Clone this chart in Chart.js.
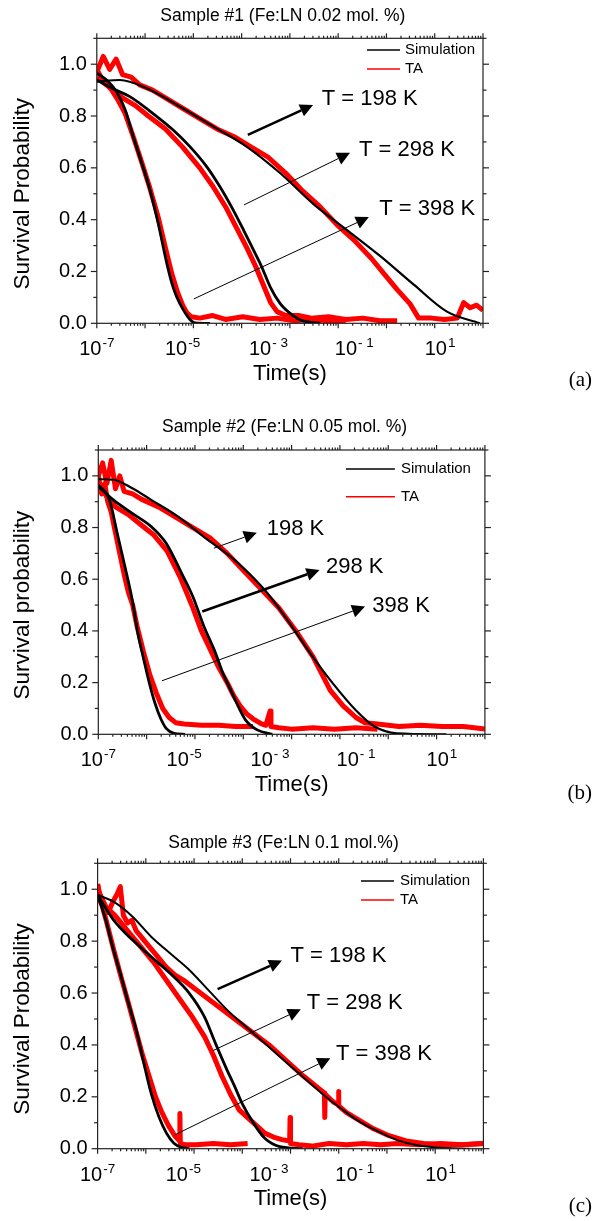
<!DOCTYPE html>
<html>
<head>
<meta charset="utf-8">
<script src="https://cdn.jsdelivr.net/npm/chart.js@4.4.1/dist/chart.umd.min.js"></script>
<style>
  body { margin: 0; background: #fff; width: 593px; height: 1221px; position: relative; overflow: hidden; }
  canvas { position: absolute; left: 0; }
</style>
</head>
<body>
<canvas id="chartA" width="593" height="410" style="top:0px"></canvas>
<canvas id="chartB" width="593" height="410" style="top:410px"></canvas>
<canvas id="chartC" width="593" height="401" style="top:820px"></canvas>
<script>
// 時間は log10(秒) で読み取り、描画時に 10^t に戻す

// ---- 軸の目盛り ----
const yMajorTicks = [0.0, 0.2, 0.4, 0.6, 0.8, 1.0];
const yMinorTicks = [0.1, 0.3, 0.5, 0.7, 0.9, 1.1];
const xLabelDecades = [-7, -5, -3, -1, 1];
const xLabelSups = ['-7', '-5', '- 3', '- 1', '1'];

// ---- Sample #1 ----
const aSim398T = [-7.0, -6.77, -6.54, -6.34, -6.15, -5.95, -5.76, -5.57, -5.37, -5.25, -5.14, -4.98, -4.83, -4.71, -4.36];
const aSim398P = [0.965, 0.939, 0.894, 0.824, 0.72, 0.617, 0.514, 0.386, 0.232, 0.154, 0.103, 0.051, 0.015, 0.002, 0.0];
const aTa398T = [-7.0, -6.9, -6.8, -6.65, -6.5, -6.34, -6.15, -5.95, -5.76, -5.57, -5.4, -5.25, -5.12, -5.0, -4.9, -4.8, -4.6, -4.3, -4.0, -3.6, -3.2, -2.8, -2.4, -2.0, -1.6, -1.2];
const aTa398P = [0.98, 0.95, 0.93, 0.90, 0.86, 0.81, 0.72, 0.62, 0.52, 0.41, 0.29, 0.19, 0.12, 0.07, 0.04, 0.025, 0.02, 0.03, 0.015, 0.025, 0.015, 0.02, 0.01, 0.015, 0.01, 0.01];
const aSim298T = [-7.0, -6.62, -6.23, -5.6, -5.22, -4.83, -4.44, -4.13, -3.82, -3.58, -3.35, -3.16, -2.96, -2.73, -2.5, -2.26, -1.79];
const aSim298P = [0.939, 0.905, 0.875, 0.798, 0.746, 0.682, 0.605, 0.527, 0.437, 0.36, 0.283, 0.219, 0.141, 0.077, 0.039, 0.013, 0.0];
const aTa298T = [-7.0, -6.7, -6.4, -6.1, -5.8, -5.4, -5.0, -4.6, -4.3, -4.0, -3.75, -3.5, -3.3, -3.1, -2.95, -2.8, -2.6, -2.3, -2.0, -1.6, -1.2, -0.8, -0.4, 0.0];
const aTa298P = [0.95, 0.91, 0.87, 0.84, 0.80, 0.75, 0.68, 0.60, 0.53, 0.45, 0.37, 0.29, 0.22, 0.14, 0.08, 0.045, 0.03, 0.03, 0.02, 0.025, 0.015, 0.02, 0.01, 0.01];
const aSim198T = [-7.0, -6.46, -5.84, -5.06, -4.28, -3.51, -2.73, -1.95, -1.17, -0.4, 0.38, 1.16, 1.93];
const aSim198P = [0.933, 0.939, 0.907, 0.836, 0.759, 0.682, 0.58, 0.46, 0.36, 0.26, 0.15, 0.045, 0.0];
const aTa198T = [-7.0, -6.85, -6.7, -6.55, -6.4, -6.2, -6.0, -5.7, -5.4, -5.0, -4.6, -4.2, -3.8, -3.4, -3.0, -2.6, -2.2, -1.8, -1.4, -1.0, -0.6, -0.3, 0.0, 0.3, 0.5, 0.8, 1.1, 1.4, 1.55, 1.7, 1.85, 2.0];
const aTa198P = [0.97, 1.03, 0.98, 1.02, 0.96, 0.95, 0.92, 0.90, 0.87, 0.83, 0.79, 0.75, 0.72, 0.68, 0.64, 0.58, 0.51, 0.45, 0.38, 0.32, 0.25, 0.19, 0.13, 0.075, 0.02, 0.02, 0.015, 0.02, 0.08, 0.06, 0.07, 0.05];

// ---- Sample #2 ----
const bSim398T = [-7.0, -6.74, -6.56, -6.38, -6.21, -6.08, -5.94, -5.81, -5.68, -5.55, -5.42, -5.24, -4.98];
const bSim398P = [0.965, 0.907, 0.778, 0.649, 0.52, 0.391, 0.288, 0.197, 0.12, 0.062, 0.023, 0.004, 0.0];
const bTa398T = [-7.0, -6.92, -6.85, -6.78, -6.7, -6.6, -6.5, -6.4, -6.3, -6.2, -6.1, -5.95, -5.8, -5.65, -5.5, -5.35, -5.2, -5.0, -4.6, -4.2, -3.8, -3.4];
const bTa398P = [1.0, 0.93, 0.97, 0.90, 0.86, 0.78, 0.70, 0.62, 0.55, 0.50, 0.42, 0.32, 0.23, 0.16, 0.10, 0.065, 0.045, 0.04, 0.035, 0.035, 0.03, 0.03];
const bSim298T = [-7.0, -6.65, -6.21, -5.77, -5.42, -5.06, -4.8, -4.54, -4.27, -4.1, -3.92, -3.74, -3.57, -3.3, -2.95];
const bSim298P = [0.959, 0.907, 0.855, 0.804, 0.739, 0.623, 0.533, 0.417, 0.314, 0.236, 0.172, 0.107, 0.055, 0.017, 0.0];
const bTa298T = [-7.0, -6.8, -6.6, -6.3, -6.0, -5.7, -5.4, -5.1, -4.8, -4.6, -4.4, -4.2, -4.0, -3.85, -3.7, -3.55, -3.4, -3.3, -3.2, -3.1, -3.0, -2.98, -2.8, -2.5, -2.0, -1.5, -1.0, -0.5];
const bTa298P = [0.97, 0.92, 0.88, 0.85, 0.81, 0.77, 0.71, 0.61, 0.49, 0.40, 0.33, 0.26, 0.20, 0.15, 0.11, 0.08, 0.06, 0.05, 0.04, 0.035, 0.09, 0.03, 0.025, 0.02, 0.025, 0.02, 0.025, 0.02];
const bSim198T = [-7.0, -6.65, -6.21, -5.77, -5.15, -4.45, -3.83, -3.13, -2.6, -2.07, -1.54, -1.01, -0.57, -0.05, 1.1];
const bSim198P = [0.987, 0.985, 0.952, 0.907, 0.843, 0.752, 0.675, 0.559, 0.443, 0.314, 0.197, 0.094, 0.03, 0.004, 0.0];
const bTa198T = [-7.0, -6.9, -6.8, -6.7, -6.6, -6.5, -6.4, -6.2, -6.0, -5.6, -5.2, -4.8, -4.4, -4.0, -3.6, -3.2, -2.8, -2.4, -2.0, -1.6, -1.3, -1.0, -0.8, -0.5, 0.0, 0.5, 1.0, 1.5, 2.0];
const bTa198P = [1.0, 1.05, 0.97, 1.06, 0.95, 1.0, 0.94, 0.93, 0.91, 0.88, 0.84, 0.80, 0.76, 0.70, 0.63, 0.56, 0.49, 0.40, 0.30, 0.17, 0.11, 0.065, 0.045, 0.04, 0.03, 0.035, 0.03, 0.03, 0.02];

// ---- Sample #3 ----
const cSim398T = [-7.0, -6.81, -6.63, -6.45, -6.28, -6.1, -5.92, -5.75, -5.57, -5.39, -5.22, -5.04, -4.86];
const cSim398P = [0.978, 0.882, 0.766, 0.663, 0.56, 0.458, 0.329, 0.213, 0.123, 0.059, 0.021, 0.005, 0.0];
const cTa398T = [-7.0, -6.95, -6.9, -6.8, -6.63, -6.45, -6.28, -6.1, -5.95, -5.8, -5.65, -5.5, -5.35, -5.2, -5.09, -5.08, -5.07, -4.95, -4.7, -4.3, -3.9, -3.5];
const cTa398P = [1.02, 0.98, 0.94, 0.88, 0.77, 0.66, 0.56, 0.45, 0.36, 0.28, 0.20, 0.14, 0.09, 0.05, 0.03, 0.136, 0.02, 0.015, 0.015, 0.02, 0.015, 0.02];
const cSim298T = [-7.0, -6.63, -6.19, -5.75, -5.31, -4.86, -4.51, -4.25, -3.98, -3.8, -3.63, -3.36, -3.1, -2.75, -2.22];
const cSim298P = [0.978, 0.882, 0.805, 0.74, 0.676, 0.599, 0.509, 0.406, 0.303, 0.239, 0.175, 0.098, 0.04, 0.008, 0.0];
const cTa298T = [-7.0, -6.8, -6.6, -6.3, -6.0, -5.7, -5.4, -5.1, -4.8, -4.5, -4.3, -4.1, -3.9, -3.7, -3.5, -3.3, -3.1, -2.9, -2.7, -2.52, -2.51, -2.5, -2.3, -2.0, -1.6, -1.2, -0.8, -0.4, 0.0, 0.5, 1.0, 1.5, 2.0];
const cTa298P = [1.0, 0.93, 0.90, 0.84, 0.78, 0.72, 0.65, 0.58, 0.51, 0.43, 0.36, 0.28, 0.21, 0.15, 0.12, 0.09, 0.06, 0.045, 0.035, 0.03, 0.12, 0.02, 0.015, 0.01, 0.02, 0.015, 0.02, 0.015, 0.02, 0.015, 0.02, 0.015, 0.02];
const cSim198T = [-7.0, -6.63, -6.19, -5.75, -5.31, -4.86, -4.42, -3.98, -3.54, -3.1, -2.66, -2.22, -1.77, -1.33, -0.89, -0.45, -0.01, 0.43, 0.87, 1.67];
const cSim198P = [0.978, 0.952, 0.895, 0.817, 0.753, 0.689, 0.612, 0.535, 0.47, 0.406, 0.342, 0.278, 0.213, 0.156, 0.104, 0.066, 0.033, 0.014, 0.005, 0.0];
const cTa198T = [-7.0, -6.93, -6.85, -6.75, -6.65, -6.55, -6.47, -6.4, -6.3, -6.2, -6.1, -6.0, -5.8, -5.6, -5.4, -5.2, -5.0, -4.6, -4.2, -3.8, -3.4, -3.0, -2.6, -2.2, -1.9, -1.71, -1.70, -1.69, -1.5, -1.39, -1.38, -1.37, -1.2, -1.0, -0.6, -0.2, 0.2, 0.6, 1.0, 1.5, 2.0];
const cTa198P = [1.02, 0.95, 0.93, 0.91, 0.95, 0.98, 1.01, 0.90, 0.87, 0.88, 0.84, 0.82, 0.78, 0.74, 0.70, 0.67, 0.65, 0.60, 0.55, 0.50, 0.45, 0.40, 0.34, 0.28, 0.24, 0.215, 0.12, 0.21, 0.18, 0.17, 0.22, 0.165, 0.14, 0.12, 0.08, 0.05, 0.03, 0.02, 0.015, 0.015, 0.02];

// 矢印と温度ラベル（データ座標: [log10 t, 確率]）
const notesA = [
    { text: 'T = 198 K', from: [-3.48, 0.727], to: [-1.96, 0.843], at: [-1.76, 0.866], thick: true },
    { text: 'T = 298 K', from: [-3.57, 0.457], to: [-1.10, 0.658], at: [-0.89, 0.669], thick: false },
    { text: 'T = 398 K', from: [-4.74, 0.094], to: [-0.66, 0.41], at: [-0.42, 0.441], thick: false }
];
const notesB = [
    { text: '198 K', from: [-4.31, 0.72], to: [-3.31, 0.78], at: [-3.08, 0.795], thick: false },
    { text: '298 K', from: [-4.58, 0.475], to: [-1.85, 0.636], at: [-1.70, 0.647], thick: true },
    { text: '398 K', from: [-5.52, 0.207], to: [-0.79, 0.494], at: [-0.62, 0.498], thick: false }
];
const notesC = [
    { text: 'T = 198 K', from: [-4.20, 0.615], to: [-2.70, 0.725], at: [-2.50, 0.743], thick: true },
    { text: 'T = 298 K', from: [-4.31, 0.378], to: [-2.26, 0.537], at: [-2.12, 0.561], thick: false },
    { text: 'T = 398 K', from: [-5.20, 0.053], to: [-1.57, 0.349], at: [-1.44, 0.364], thick: false }
];

const FONT = '"Liberation Sans", Arial, Helvetica, sans-serif';

/**
 * 読み取った配列を {x, y} の点列にする
 */
function pts(logT, prob) {
    return logT.map((t, i) => ({ x: Math.pow(10, t), y: prob[i] }));
}

function simSet(logT, prob, width) {
    return {
        data: pts(logT, prob), borderColor: '#000', borderWidth: width,
        cubicInterpolationMode: 'monotone', pointRadius: 0, fill: false, order: 0
    };
}

function taSet(logT, prob) {
    return {
        data: pts(logT, prob), borderColor: '#ff0000', borderWidth: 5,
        borderJoinStyle: 'round', tension: 0, pointRadius: 0, fill: false, order: 1
    };
}

function line(ctx, x1, y1, x2, y2) {
    ctx.beginPath();
    ctx.moveTo(x1, y1);
    ctx.lineTo(x2, y2);
    ctx.stroke();
}

/**
 * 枠・目盛り・ラベル・凡例の描画
 */
function drawAxes(chart, p) {
    const { ctx, chartArea: a } = chart;
    const x = chart.scales.x, y = chart.scales.y, xt = chart.scales.xt;
    ctx.save();
    ctx.strokeStyle = '#222';
    ctx.lineWidth = 1.2;
    ctx.strokeRect(a.left, a.top, a.right - a.left, a.bottom - a.top);

    // y 目盛り（左右とも外向き）
    yMajorTicks.concat(yMinorTicks).forEach(v => {
        const py = y.getPixelForValue(v);
        const len = yMajorTicks.includes(v) ? 6 : 3.5;
        line(ctx, a.left - len, py, a.left, py);
        line(ctx, a.right, py, a.right + len, py);
    });

    // x 目盛り（元図は8区間の対数目盛り）
    for (let n = 0; n <= 8; n++) {
        for (let k = 1; k <= 9; k++) {
            const v = k * Math.pow(10, n);
            if (v > 1e8) break;
            const px = xt.getPixelForValue(v);
            const len = k === 1 ? 5 : 2.5;
            line(ctx, px, a.top - len, px, a.top);
            line(ctx, px, a.bottom, px, a.bottom + len);
        }
    }

    ctx.fillStyle = '#000';
    // y ラベル
    ctx.font = '20px ' + FONT;
    ctx.textAlign = 'right';
    ctx.textBaseline = 'middle';
    yMajorTicks.forEach(v => {
        ctx.fillText(v.toFixed(1), a.left - 10, y.getPixelForValue(v));
    });

    // x ラベル 10^n
    ctx.textAlign = 'left';
    ctx.textBaseline = 'alphabetic';
    xLabelDecades.forEach((d, i) => {
        const px = x.getPixelForValue(Math.pow(10, d));
        ctx.font = '20px ' + FONT;
        const w10 = ctx.measureText('10').width;
        ctx.font = '13.5px ' + FONT;
        const ws = ctx.measureText(xLabelSups[i]).width;
        const start = px - (w10 + 1 + ws) / 2;
        ctx.font = '20px ' + FONT;
        ctx.fillText('10', start, a.bottom + 32);
        ctx.font = '13.5px ' + FONT;
        ctx.fillText(xLabelSups[i], start + w10 + 1, a.bottom + 24);
    });

    // 軸タイトル
    ctx.font = '22px ' + FONT;
    ctx.textAlign = 'center';
    ctx.textBaseline = 'middle';
    ctx.fillText('Time(s)', (a.left + a.right) / 2, a.bottom + 50.5);
    ctx.save();
    ctx.translate(23, y.getPixelForValue(0.5));
    ctx.rotate(-Math.PI / 2);
    ctx.font = '22.5px ' + FONT;
    ctx.fillText(p.yLabel, 0, 0);
    ctx.restore();

    // 上のタイトル
    ctx.font = '17.5px ' + FONT;
    ctx.fillText(p.title, (a.left + a.right) / 2 - 7, p.titleY);

    // 凡例
    const lg = p.legend;
    ctx.lineWidth = 1.4;
    ctx.strokeStyle = '#000';
    line(ctx, a.right - lg.x1, a.top + lg.y1, a.right - lg.x2, a.top + lg.y1);
    ctx.strokeStyle = '#ff0000';
    line(ctx, a.right - lg.x1, a.top + lg.y2, a.right - lg.x2, a.top + lg.y2);
    ctx.font = '15px ' + FONT;
    ctx.textAlign = 'left';
    ctx.fillText('Simulation', a.right - lg.tx, a.top + lg.y1);
    ctx.fillText('TA', a.right - lg.tx, a.top + lg.y2);

    // (a)(b)(c)
    ctx.font = '21px "Liberation Serif", "DejaVu Serif", serif';
    ctx.textAlign = 'right';
    ctx.fillText(p.tag, 592, p.tagY);
    ctx.restore();
}

/**
 * 矢印と温度ラベル
 */
function drawNotes(chart, p) {
    const { ctx } = chart;
    const x = chart.scales.x, y = chart.scales.y;
    const px = v => x.getPixelForValue(Math.pow(10, v[0]));
    const py = v => y.getPixelForValue(v[1]);
    ctx.save();
    ctx.strokeStyle = '#000';
    ctx.fillStyle = '#000';
    p.notes.forEach(n => {
        const x1 = px(n.from), y1 = py(n.from), x2 = px(n.to), y2 = py(n.to);
        const ang = Math.atan2(y2 - y1, x2 - x1);
        const head = 13, half = 6.5;
        const bx = x2 - head * Math.cos(ang), by = y2 - head * Math.sin(ang);
        ctx.lineWidth = n.thick ? 2.6 : 1;
        line(ctx, x1, y1, bx, by);
        ctx.beginPath();
        ctx.moveTo(x2, y2);
        ctx.lineTo(bx + half * Math.sin(ang), by - half * Math.cos(ang));
        ctx.lineTo(bx - half * Math.sin(ang), by + half * Math.cos(ang));
        ctx.closePath();
        ctx.fill();

        ctx.font = '22px ' + FONT;
        ctx.textAlign = 'left';
        ctx.textBaseline = 'middle';
        ctx.fillText(n.text, px(n.at), py(n.at));
    });
    ctx.restore();
}

function makeDecor(p) {
    return {
        id: 'decor' + p.id,
        afterDatasetsDraw(chart) { drawNotes(chart, p); },
        afterDraw(chart) { drawAxes(chart, p); }
    };
}

const panels = [
    {
        id: 'chartA', title: 'Sample #1 (Fe:LN 0.02 mol. %)', yLabel: 'Survival Probability', tag: '(a)',
        titleY: 16, tagY: 380,
        pad: { left: 96.8, top: 38.3, right: 110, bottom: 86.7 },
        legend: { x1: 116, x2: 83, tx: 78, y1: 11.7, y2: 30.7 },
        notes: notesA,
        datasets: [
            simSet(aSim398T, aSim398P, 2.8), simSet(aSim298T, aSim298P, 2.8), simSet(aSim198T, aSim198P, 2.2),
            taSet(aTa398T, aTa398P), taSet(aTa298T, aTa298P), taSet(aTa198T, aTa198P)
        ]
    },
    {
        id: 'chartB', title: 'Sample #2 (Fe:LN 0.05 mol. %)', yLabel: 'Survival probability', tag: '(b)',
        titleY: 16.7, tagY: 383,
        pad: { left: 98.3, top: 40, right: 108.1, bottom: 85.7 },
        legend: { x1: 139, x2: 90, tx: 84, y1: 19, y2: 46.7 },
        notes: notesB,
        datasets: [
            simSet(bSim398T, bSim398P, 2.8), simSet(bSim298T, bSim298P, 2.8), simSet(bSim198T, bSim198P, 2.2),
            taSet(bTa398T, bTa398P), taSet(bTa298T, bTa298P), taSet(bTa198T, bTa198P)
        ]
    },
    {
        id: 'chartC', title: 'Sample #3 (Fe:LN 0.1 mol.%)', yLabel: 'Survival Probability', tag: '(c)',
        titleY: 23, tagY: 386.7,
        pad: { left: 97.6, top: 43.3, right: 109.6, bottom: 72.3 },
        legend: { x1: 122.4, x2: 89.4, tx: 83.4, y1: 17.7, y2: 36.7 },
        notes: notesC,
        datasets: [
            simSet(cSim398T, cSim398P, 2.8), simSet(cSim298T, cSim298P, 2.8), simSet(cSim198T, cSim198P, 2.0),
            taSet(cTa398T, cTa398P), taSet(cTa298T, cTa298P), taSet(cTa198T, cTa198P)
        ]
    }
];

panels.forEach(p => {
    new Chart(document.getElementById(p.id), {
        type: 'line',
        data: { datasets: p.datasets },
        options: {
            responsive: false,
            animation: false,
            layout: { padding: p.pad },
            plugins: { legend: { display: false }, tooltip: { enabled: false }, title: { display: false } },
            scales: {
                x: { type: 'logarithmic', axis: 'x', min: 1e-7, max: 1e2, display: false },
                y: { type: 'linear', axis: 'y', min: 0, max: 1.1, display: false },
                xt: { type: 'logarithmic', axis: 'x', min: 1, max: 1e8, display: false }
            },
            elements: { point: { radius: 0 } }
        },
        plugins: [makeDecor(p)]
    });
});
</script>
</body>
</html>
